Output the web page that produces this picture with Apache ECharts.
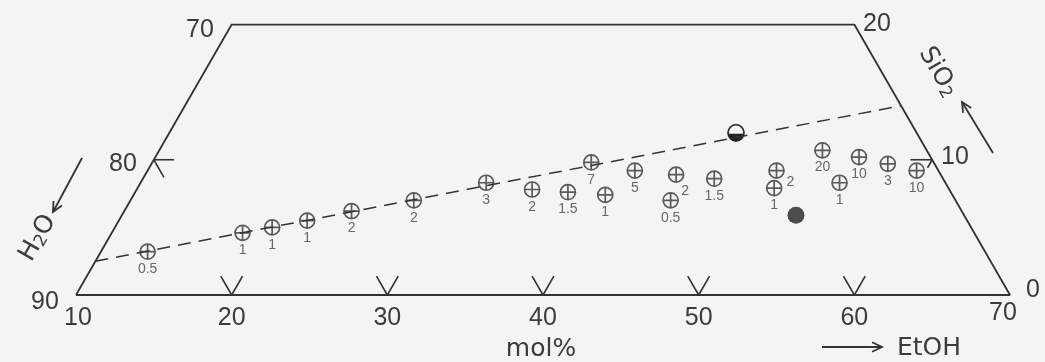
<!DOCTYPE html>
<html><head><meta charset="utf-8">
<script src="https://cdn.jsdelivr.net/npm/echarts@6/dist/echarts.min.js"></script>
<style>html,body{margin:0;padding:0;background:#f4f4f2}#c{width:1045px;height:362px}</style>
</head><body><div id="c"></div><script>
// ---- data: ternary compositions (mol%) ----
const ethanol = [13.0,18.4,20.1,22.1,24.6,28.2,32.2,35.4,37.8,38.2,40.3,41.3,44.1,44.7,46.7,50.4,50.9,52.6,54.9,55.2,57.3,59.4];
const silica  = [3.2,4.6,5.0,5.5,6.2,7.0,8.3,7.8,7.6,9.8,7.4,9.2,8.9,7.0,8.6,9.2,7.9,10.7,8.3,10.2,9.7,9.2];
const pointLabels = ['0.5','1','1','1','2','2','3','2','1.5','7','1','5','2','0.5','1.5','2','1','20','1','10','3','10'];
const halfFilledEtOH = [46.4], halfFilledSiO2 = [12.0];
const filledEtOH = [53.3], filledSiO2 = [5.9];
const frameEtOH = [10,10,50,70,10];
const frameSiO2 = [0,20,20,0,0];
const dashEtOH = [10,56];
const dashSiO2 = [2.5,14];
const bottomTicks = [20,30,40,50,60];   // EtOH on SiO2 = 0 edge
const leftTickSiO2 = [10];              // H2O 80 on EtOH = 10 edge
const rightTickSiO2 = [10];             // SiO2 10 on H2O = 30 edge

// style-only: label shifts for a few points
const labelShift = {12:[9,-1], 15:[14,-6]};

function tern(e, s){ return [e + s/2, s]; }

const INK = '#333333';
const chart = echarts.init(document.getElementById('c'), null, {renderer:'canvas'});

const tickData = [];
bottomTicks.forEach(e => tickData.push([e, 0, 0]));
leftTickSiO2.forEach(s => tickData.push([10, s, 1]));
rightTickSiO2.forEach(s => tickData.push([70 - s, s, 2]));

const sym = 'path://M10,0A10,10,0,1,1,10,20A10,10,0,1,1,10,0ZM10,0L10,20M0,10L20,10';

function arrow(x1,y1,x2,y2,h){
  const dx=x2-x1, dy=y2-y1, L=Math.hypot(dx,dy), ux=dx/L, uy=dy/L;
  const a=Math.PI/7;
  const p1=[x2 - h*(ux*Math.cos(a) - uy*Math.sin(a)), y2 - h*(uy*Math.cos(a) + ux*Math.sin(a))];
  const p2=[x2 - h*(ux*Math.cos(a) + uy*Math.sin(a)), y2 - h*(uy*Math.cos(a) - ux*Math.sin(a))];
  return [
    {type:'polyline', shape:{points:[[x1,y1],[x2,y2]]}, style:{stroke:INK, lineWidth:1.8, fill:null}},
    {type:'polyline', shape:{points:[p1,[x2,y2],p2]}, style:{stroke:INK, lineWidth:1.8, fill:null}}
  ];
}
function txt(t,x,y,size,fam,rot){
  return {type:'text', x:x, y:y, rotation:rot||0,
    style:{text:t, fill:'#3c3c3c', font:size+'px '+(fam||'"Liberation Sans"'), align:'center', verticalAlign:'middle'}};
}
const richStyle = {n:{fontSize:25, fontFamily:'DejaVu Sans', fill:'#3c3c3c', lineHeight:30},
                   s:{fontSize:17, fontFamily:'DejaVu Sans', fill:'#3c3c3c', lineHeight:30, padding:[9,0,0,0]}};
const subText = (main, sub, x, y, rot) => ({type:'text', x:x, y:y, rotation:rot,
  style:{text:'{n|'+main+'}{s|'+sub+'}', fill:'#3c3c3c', align:'center', verticalAlign:'middle', rich:richStyle}});
const subText2 = (a, sub, b, x, y, rot) => ({type:'text', x:x, y:y, rotation:rot,
  style:{text:'{n|'+a+'}{s|'+sub+'}{n|'+b+'}', fill:'#3c3c3c', align:'center', verticalAlign:'middle', rich:richStyle}});

const graphics = [
  txt('70',200,30,25), txt('20',877,24,25), txt('80',123,164,25), txt('90',45,302,25),
  txt('10',955,157,25), txt('0',1033,290,25),
  txt('mol%',541,349,25,'"DejaVu Sans"'), txt('EtOH',929,348,25,'"DejaVu Sans"'),
  subText2('H','2','O',38,238,Math.PI/3),
  subText('SiO','2',938,72,-Math.PI/3),
  ...arrow(82,158,53,212,11), ...arrow(993,153,962,102,11), ...arrow(822,347,882,347,11)
];

const option = {
  backgroundColor:'#f4f4f2',
  animation:false,
  grid:{left:76, right:35, top:24.5, bottom:67},
  xAxis:{type:'value', min:10, max:70, interval:10, show:false},
  yAxis:{type:'value', min:0, max:20, interval:10, show:false},
  graphic: graphics,
  series:[
    {type:'line', silent:true, symbol:'none', data: frameEtOH.map((e,i)=>tern(e, frameSiO2[i])),
     lineStyle:{color:INK, width:1.8}},
    {type:'line', silent:true, symbol:'none', data: dashEtOH.map((e,i)=>tern(e, dashSiO2[i])),
     lineStyle:{color:INK, width:1.5, type:[13,8]}},
    {type:'custom', silent:true, data: tickData, renderItem:(params, api)=>{
      const e=api.value(0), s=api.value(1), k=api.value(2);
      const p=api.coord(tern(e,s));
      let a,b;
      if(k===0){ a=api.coord(tern(e-1.4,1.4)); b=api.coord(tern(e,1.4)); }
      else if(k===1){ a=api.coord(tern(e+1.3,s)); b=api.coord(tern(e+1.3,s-1.3)); }
      else { a=api.coord(tern(e-1.4,s)); b=api.coord(tern(e,s-0.6)); }
      return {type:'group', children:[
        {type:'line', shape:{x1:p[0],y1:p[1],x2:a[0],y2:a[1]}, style:{stroke:INK, lineWidth:1.6}},
        {type:'line', shape:{x1:p[0],y1:p[1],x2:b[0],y2:b[1]}, style:{stroke:INK, lineWidth:1.6}}
      ]};
    }},
    {type:'custom', silent:true, data: bottomTicks.concat([10,70]).map(v=>[v,0]), renderItem:(params, api)=>{
      const v=api.value(0); const p=api.coord(tern(v,0));
      const dx = v===10 ? 2 : (v===70 ? -7 : 0);
      const dy = v===70 ? 18 : 23;
      return {type:'text', x:p[0]+dx, y:p[1]+dy, style:{text:String(v), font:'25px "Liberation Sans"', fill:'#3c3c3c', align:'center', verticalAlign:'middle'}};
    }},
    {type:'scatter', silent:true, symbol:sym, symbolSize:15,
     itemStyle:{color:'rgba(0,0,0,0)', borderColor:INK, borderWidth:1.7},
     label:{show:true, position:'bottom', distance:2, formatter:p=>p.name, fontFamily:'Liberation Sans', fontSize:14, color:'#444'},
     data: ethanol.map((e,i)=>{
       const d={value:tern(e, silica[i]), name:pointLabels[i]};
       if(labelShift[i]) d.label={offset:labelShift[i]};
       return d;
     })},
    {type:'scatter', silent:true, symbol:'circle', symbolSize:17, itemStyle:{color:'#222'},
     data: filledEtOH.map((e,i)=>tern(e, filledSiO2[i]))},
    {type:'custom', silent:true, data: halfFilledEtOH.map((e,i)=>tern(e, halfFilledSiO2[i])), renderItem:(params, api)=>{
      const p=api.coord([api.value(0), api.value(1)]); const r=8;
      return {type:'group', children:[
        {type:'circle', shape:{cx:p[0], cy:p[1], r:r}, style:{fill:'#f4f4f2', stroke:INK, lineWidth:1.8}},
        {type:'sector', shape:{cx:p[0], cy:p[1]+1, r0:0, r:r, startAngle:0, endAngle:Math.PI, clockwise:true}, style:{fill:'#222'}}
      ]};
    }}
  ]
};
chart.setOption(option);
</script></body></html>
